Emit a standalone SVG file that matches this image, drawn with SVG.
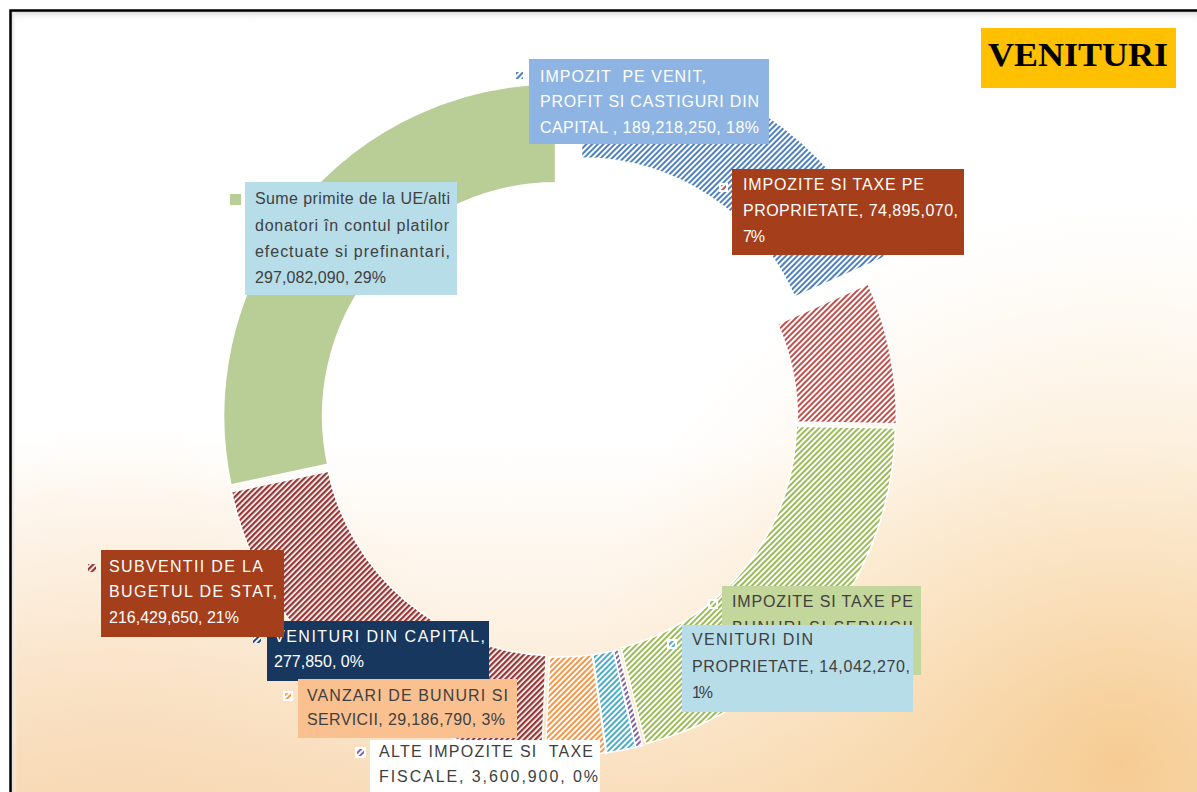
<svg xmlns="http://www.w3.org/2000/svg" width="1197" height="792" viewBox="0 0 1197 792">
<style>
.lbl{font-family:"Liberation Sans",Arial,sans-serif;font-size:16px;white-space:pre}
.w{fill:#ffffff}
.d{fill:#404040}
.seg{stroke:#ffffff;stroke-width:1.5}
.mk{stroke:#ffffff;stroke-width:2}
</style>
<defs>
<linearGradient id="bgv" x1="0" y1="0" x2="0" y2="1">
<stop offset="0" stop-color="#ffffff"/>
<stop offset="0.55" stop-color="#ffffff"/>
<stop offset="0.78" stop-color="#FDF2E4"/>
<stop offset="1" stop-color="#F9DEBC"/>
</linearGradient>
<radialGradient id="glowR" cx="1120" cy="760" r="560" gradientUnits="userSpaceOnUse">
<stop offset="0" stop-color="#F5C686" stop-opacity="0.8"/>
<stop offset="0.6" stop-color="#F8D8A8" stop-opacity="0.35"/>
<stop offset="1" stop-color="#FBE6C8" stop-opacity="0"/>
</radialGradient>
<radialGradient id="glowL" cx="120" cy="800" r="380" gradientUnits="userSpaceOnUse">
<stop offset="0" stop-color="#F7D6B0" stop-opacity="0.6"/>
<stop offset="1" stop-color="#F7D6B0" stop-opacity="0"/>
</radialGradient>
<linearGradient id="shT" x1="0" y1="0" x2="0" y2="1">
<stop offset="0" stop-color="#d4d4d4"/>
<stop offset="1" stop-color="#ffffff" stop-opacity="0"/>
</linearGradient>
<linearGradient id="shL" x1="0" y1="0" x2="1" y2="0">
<stop offset="0" stop-color="#d8d8d8"/>
<stop offset="1" stop-color="#ffffff" stop-opacity="0"/>
</linearGradient>
<pattern id="hBlue" width="4" height="4" patternUnits="userSpaceOnUse" patternTransform="rotate(45)"><rect width="4" height="4" fill="#ffffff"/><rect width="2" height="4" fill="#4F81BD"/></pattern>
<pattern id="hRed" width="4" height="4" patternUnits="userSpaceOnUse" patternTransform="rotate(45)"><rect width="4" height="4" fill="#ffffff"/><rect width="2" height="4" fill="#C0504D"/></pattern>
<pattern id="hGreen" width="4" height="4" patternUnits="userSpaceOnUse" patternTransform="rotate(45)"><rect width="4" height="4" fill="#ffffff"/><rect width="2" height="4" fill="#9BBB59"/></pattern>
<pattern id="hPurple" width="4" height="4" patternUnits="userSpaceOnUse" patternTransform="rotate(45)"><rect width="4" height="4" fill="#ffffff"/><rect width="2" height="4" fill="#8064A2"/></pattern>
<pattern id="hCyan" width="4" height="4" patternUnits="userSpaceOnUse" patternTransform="rotate(45)"><rect width="4" height="4" fill="#ffffff"/><rect width="2" height="4" fill="#4BACC6"/></pattern>
<pattern id="hOrange" width="4" height="4" patternUnits="userSpaceOnUse" patternTransform="rotate(45)"><rect width="4" height="4" fill="#ffffff"/><rect width="2" height="4" fill="#F79646"/></pattern>
<pattern id="hDRed" width="4" height="4" patternUnits="userSpaceOnUse" patternTransform="rotate(45)"><rect width="4" height="4" fill="#ffffff"/><rect width="2.3" height="4" fill="#953735"/></pattern>
<pattern id="hNavy" width="4" height="4" patternUnits="userSpaceOnUse" patternTransform="rotate(45)"><rect width="4" height="4" fill="#ffffff"/><rect width="2" height="4" fill="#1F497D"/></pattern>
</defs>

<g id="background">
<rect x="0" y="0" width="1197" height="792" fill="#ffffff"/>
<rect x="10" y="10" width="1187" height="782" fill="url(#bgv)"/>
<rect x="10" y="10" width="1187" height="782" fill="url(#glowR)"/>
<rect x="10" y="10" width="1187" height="782" fill="url(#glowL)"/>
<rect x="11" y="11" width="1186" height="10" fill="url(#shT)"/>
<rect x="11" y="11" width="6" height="781" fill="url(#shL)"/>
<path d="M10.5 792 V10.5 H1197" fill="none" stroke="#000000" stroke-width="2.5"/>
</g>

<g id="title">
<rect x="981" y="28" width="195" height="60" fill="#FFC000"/>
<text x="988" y="66" font-family="'Liberation Serif','Times New Roman',serif" font-size="34" font-weight="bold" fill="#000000" textLength="180" lengthAdjust="spacingAndGlyphs">VENITURI</text>
</g>

<g id="slices" transform="translate(559.5,419)">
<path id="slice-sume" class="seg" fill="#B8CE96" transform="translate(-3.89,-3.15)" d="M-324.73,69.02 A332,332 0 0 1 0,-332 L0,-233 A233,233 0 0 0 -227.90,48.44 Z"/>
<path id="slice-impozit-venit" class="seg" fill="url(#hBlue)" transform="translate(22,-28)" d="M0,-332 A332,332 0 0 1 303.77,-133.98 L213.19,-94.03 A233,233 0 0 0 0,-233 Z"/>
<path id="slice-proprietate-taxe" class="seg" fill="url(#hRed)" transform="translate(4.90,-0.99)" d="M303.77,-133.98 A332,332 0 0 1 331.95,5.79 L232.97,4.07 A233,233 0 0 0 213.19,-94.03 Z"/>
<path id="slice-bunuri" class="seg" fill="url(#hGreen)" transform="translate(3.92,3.10)" d="M331.95,5.79 A332,332 0 0 1 82.00,321.71 L57.55,225.78 A233,233 0 0 0 232.97,4.07 Z"/>
<path id="slice-alte" class="seg" fill="url(#hPurple)" transform="translate(1.18,4.86)" d="M82.00,321.71 A332,332 0 0 1 75.25,323.36 L52.81,226.94 A233,233 0 0 0 57.55,225.78 Z"/>
<path id="slice-venituri-proprietate" class="seg" fill="url(#hCyan)" transform="translate(0.92,4.92)" d="M75.25,323.36 A332,332 0 0 1 46.20,328.77 L32.43,230.73 A233,233 0 0 0 52.81,226.94 Z"/>
<path id="slice-vanzari" class="seg" fill="url(#hOrange)" transform="translate(0.24,4.99)" d="M46.20,328.77 A332,332 0 0 1 -14.48,331.68 L-10.16,232.78 A233,233 0 0 0 32.43,230.73 Z"/>
<path id="slice-subventii" class="seg" fill="url(#hDRed)" transform="translate(-3.23,3.82)" d="M-14.48,331.68 A332,332 0 0 1 -324.73,69.02 L-227.90,48.44 A233,233 0 0 0 -10.16,232.78 Z"/>
</g>

<g id="labels">
<g id="label-impozit-venit">
<rect x="529" y="59" width="240" height="85" fill="#8EB4E3"/>
<rect x="516" y="72" width="7" height="7" fill="url(#hBlue)"/>
<text class="lbl w" x="540" y="82" textLength="166" lengthAdjust="spacing">IMPOZIT  PE VENIT,</text>
<text class="lbl w" x="540" y="107" textLength="219" lengthAdjust="spacing">PROFIT SI CASTIGURI DIN</text>
<text class="lbl w" x="540" y="133" textLength="219" lengthAdjust="spacing">CAPITAL , 189,218,250, 18%</text>
</g>
<g id="label-proprietate-taxe">
<rect x="732" y="169" width="232" height="86" fill="#A43E1B"/>
<rect x="720" y="184" width="7" height="7" fill="url(#hRed)" class="mk"/>
<text class="lbl w" x="743" y="190" textLength="181" lengthAdjust="spacing">IMPOZITE SI TAXE PE</text>
<text class="lbl w" x="743" y="216" textLength="215" lengthAdjust="spacing">PROPRIETATE, 74,895,070,</text>
<text class="lbl w" x="743" y="242" textLength="22" lengthAdjust="spacing">7%</text>
</g>
<g id="label-sume">
<rect x="245" y="182" width="212" height="113" fill="#B7DDE8"/>
<rect x="230" y="194" width="11" height="11" fill="#B8CE96"/>
<text class="lbl d" x="255" y="204" textLength="195" lengthAdjust="spacing">Sume primite de la UE/alti</text>
<text class="lbl d" x="255" y="231" textLength="194" lengthAdjust="spacing">donatori în contul platilor</text>
<text class="lbl d" x="255" y="257" textLength="195" lengthAdjust="spacing">efectuate si prefinantari,</text>
<text class="lbl d" x="255" y="283" textLength="131" lengthAdjust="spacing">297,082,090, 29%</text>
</g>
<g id="label-bunuri">
<rect x="722" y="586" width="199" height="89" fill="#C3D69B"/>
<rect x="709" y="600" width="8" height="8" fill="url(#hGreen)" class="mk"/>
<text class="lbl d" x="732" y="607" textLength="181" lengthAdjust="spacing">IMPOZITE SI TAXE PE</text>
<text class="lbl d" x="732" y="633" textLength="181" lengthAdjust="spacing">BUNURI SI SERVICII</text>
</g>
<g id="label-venituri-proprietate">
<rect x="682" y="625" width="231" height="87" fill="#B7DDE8"/>
<rect x="668" y="640" width="8" height="8" fill="url(#hCyan)" class="mk"/>
<text class="lbl d" x="692" y="645" textLength="121" lengthAdjust="spacing">VENITURI DIN</text>
<text class="lbl d" x="692" y="672" textLength="218" lengthAdjust="spacing">PROPRIETATE, 14,042,270,</text>
<text class="lbl d" x="692" y="698" textLength="21" lengthAdjust="spacing">1%</text>
</g>
<g id="label-alte">
<rect x="370" y="740" width="230" height="52" fill="#ffffff"/>
<rect x="356" y="748" width="9" height="9" fill="url(#hPurple)" class="mk"/>
<text class="lbl d" x="379" y="757" textLength="214" lengthAdjust="spacing">ALTE IMPOZITE SI  TAXE</text>
<text class="lbl d" x="379" y="782" textLength="219" lengthAdjust="spacing">FISCALE, 3,600,900, 0%</text>
</g>
<g id="label-capital">
<rect x="267" y="621" width="222" height="60" fill="#17375E"/>
<rect x="253" y="635" width="8" height="8" fill="url(#hNavy)"/>
<text class="lbl w" x="274" y="642" textLength="211" lengthAdjust="spacing">VENITURI DIN CAPITAL,</text>
<text class="lbl w" x="274" y="667" textLength="90" lengthAdjust="spacing">277,850, 0%</text>
</g>
<g id="label-vanzari">
<rect x="298" y="679" width="219" height="59" fill="#FAC090"/>
<rect x="284" y="692" width="8" height="8" fill="url(#hOrange)" class="mk"/>
<text class="lbl d" x="307" y="701" textLength="201" lengthAdjust="spacing">VANZARI DE BUNURI SI</text>
<text class="lbl d" x="307" y="725" textLength="198" lengthAdjust="spacing">SERVICII, 29,186,790, 3%</text>
</g>
<g id="label-subventii">
<rect x="101" y="550" width="183" height="87" fill="#A43E1B"/>
<rect x="88" y="564" width="8" height="8" fill="url(#hDRed)"/>
<text class="lbl w" x="109" y="572" textLength="154" lengthAdjust="spacing">SUBVENTII DE LA</text>
<text class="lbl w" x="109" y="597" textLength="168" lengthAdjust="spacing">BUGETUL DE STAT,</text>
<text class="lbl w" x="109" y="623" textLength="130" lengthAdjust="spacing">216,429,650, 21%</text>
</g>
</g>
</svg>
